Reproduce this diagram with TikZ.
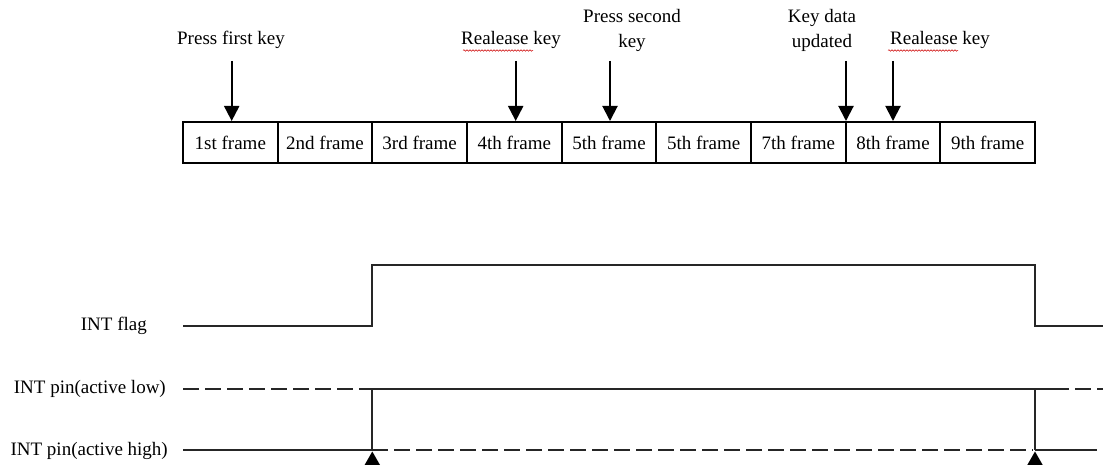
\documentclass[tikz,border=0pt]{standalone}
\usepackage{fontspec}
\setmainfont{Liberation Serif}
\usetikzlibrary{arrows.meta,decorations.pathmorphing}
\begin{document}
\begin{tikzpicture}[x=1pt,y=-1pt,
  txt/.style={font=\fontsize{19}{25}\selectfont, inner sep=0pt, align=center, text=black},
  frame/.style={draw, line width=2pt, minimum width=94.67pt, minimum height=41pt, inner sep=0pt,
     font=\fontsize{19}{25}\selectfont},
  keyarrow/.style={line width=2pt, -{Triangle[width=15pt,length=15pt]}},
  wave/.style={line width=2pt, draw=black!85},
  wavedash/.style={wave, dash pattern=on 16pt off 6pt},
  spell/.style={red!80!black, line width=0.5pt, decorate,
     decoration={snake, amplitude=0.8pt, segment length=3pt}},
  uptip/.style={fill=black}
]
\useasboundingbox (0,0) rectangle (1103,465);

% frames
\foreach \lab [count=\i] in {1st,2nd,3rd,4th,5th,5th,7th,8th,9th}
  \node[frame] (f\i) at ({183+94.67*(\i-0.5)},142.5) {\lab\ frame};

% key event labels
\node[txt] (l1) at (231,40) {Press  first key};
\node[txt] (l2) at (511,40) {Realease key};
\node[txt] (l3) at (632,30) {Press second\\key};
\node[txt] (l4) at (822,30) {Key data\\updated};
\node[txt] (l5) at (940,40) {Realease key};

\draw[spell] (463,50.5) -- (533,50.5);
\draw[spell] (888,50.5) -- (958,50.5);

% arrow starts
\coordinate (a1) at (231.7,61);
\coordinate (a2) at (515.7,61);
\coordinate (a3) at (610,61);
\coordinate (a4) at (846,61);
\coordinate (a5) at (893,61);
\draw[keyarrow] (a1) -- (a1 |- f1.north);
\draw[keyarrow] (a2) -- (a2 |- f4.north);
\draw[keyarrow] (a3) -- (a3 |- f5.north);
\draw[keyarrow] (a4) -- (a4 |- f8.north);
\draw[keyarrow] (a5) -- (a5 |- f8.north);

% signal labels
\node[txt, anchor=east] (sflag) at (147,326) {INT flag};
\node[txt, anchor=east] (slow) at (166,389) {INT pin(active low)};
\node[txt, anchor=east] (shigh) at (168,451) {INT pin(active high)};

% waveform coordinates
\coordinate (fa) at (183,326);
\coordinate (fb) at (372.3,326);
\coordinate (fc) at (372.3,265);
\coordinate (fd) at (1035,265);
\coordinate (fe) at (1035,326);
\coordinate (ff) at (1103,326);
\coordinate (la) at (183,388.5);
\coordinate (lb) at (372.3,388.5);
\coordinate (lc) at (1053,388.5);
\coordinate (ld) at (1035,388.5);
\coordinate (le) at (1103,388.5);
\coordinate (ha) at (183,450);
\coordinate (hb) at (372.3,450);
\coordinate (hc) at (1033,450);
\coordinate (hd) at (1035,450);
\coordinate (he) at (1097,450);

% INT flag
\draw[wave] (fa) -- (fb) -- (fc) -- (fd) -- (fe) -- (ff);
% INT pin active low
\draw[wavedash] (la) -- (lb);
\draw[wave] (lb) -- (lc);
\draw[wavedash] (lc) -- (le);
% INT pin active high
\draw[wave] (ha) -- (hb);
\draw[wavedash] (hb) -- (hc);
\draw[wave] (hd) -- (he);
% vertical links
\draw[wave] (lb) -- (hb);
\draw[wave] (ld) -- (hd);
% upward triangles
\fill[uptip] (372.3,451.5) -- (382.3,469) -- (362.3,469) -- cycle;
\fill[uptip] (1035,451.5) -- (1045,469) -- (1025,469) -- cycle;
\end{tikzpicture}
\end{document}
